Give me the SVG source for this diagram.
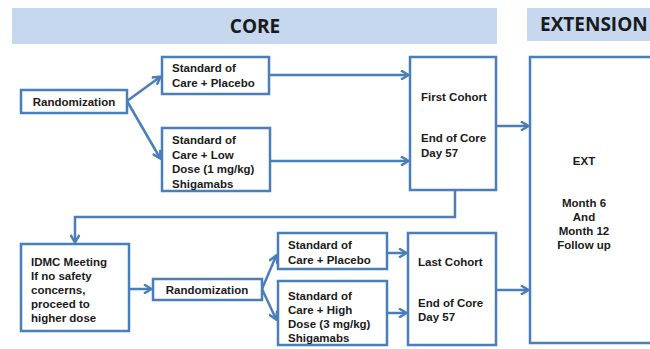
<svg xmlns="http://www.w3.org/2000/svg" width="650" height="349" viewBox="0 0 650 349">
<style>
.box{fill:#fff;stroke:#4a7ebb;stroke-width:2.5}
.ban{fill:#c6d8ef}
.t{font-family:"Liberation Sans",Arial,sans-serif;font-weight:bold;font-size:11.5px;fill:#1a1a1a}
.h{font-family:"Open Sans","Liberation Sans",sans-serif;font-weight:bold;font-size:19px;fill:#1a1a1a}
.c{fill:none;stroke:#4a7ebb;stroke-width:2.5}
</style>
<defs>
<marker id="ah" markerWidth="10" markerHeight="10" refX="8" refY="5" orient="auto" markerUnits="userSpaceOnUse">
<path d="M1,0.5 L8.5,5 L1,9.5" fill="none" stroke="#4a7ebb" stroke-width="2.5"/>
</marker>
</defs>
<g id="banner-core"><rect class="ban" x="12" y="8" width="485" height="36"/><text class="h" x="255" y="33" text-anchor="middle">CORE</text></g>
<g id="banner-ext"><rect class="ban" x="527" y="8" width="123" height="33"/><text class="h" x="540" y="31">EXTENSION</text></g>

<g id="connectors">
<path class="c" d="M127,101 L160,77" marker-end="url(#ah)"/>
<path class="c" d="M127,101 L160,158" marker-end="url(#ah)"/>
<path class="c" d="M269,75 L408,75" marker-end="url(#ah)"/>
<path class="c" d="M270,161 L408,161" marker-end="url(#ah)"/>
<path class="c" d="M496,126 L528,126" marker-end="url(#ah)"/>
<path class="c" d="M455,190 L455,217 L75,217 L75,242" marker-end="url(#ah)"/>
<path class="c" d="M129,289 L151,289" marker-end="url(#ah)"/>
<path class="c" d="M262,289 L276,256" marker-end="url(#ah)"/>
<path class="c" d="M262,289 L276,319" marker-end="url(#ah)"/>
<path class="c" d="M387,253 L406,253" marker-end="url(#ah)"/>
<path class="c" d="M387,313 L406,313" marker-end="url(#ah)"/>
<path class="c" d="M496,290 L528,290" marker-end="url(#ah)"/>
</g>

<g id="rand1"><rect class="box" x="21" y="90" width="106" height="23"/><text class="t" x="74" y="106" text-anchor="middle">Randomization</text></g>
<g id="soc-placebo1"><rect class="box" x="162" y="57" width="107" height="37"/><text class="t" x="172" y="72">Standard of</text><text class="t" x="172" y="87">Care + Placebo</text></g>
<g id="soc-low"><rect class="box" x="162" y="128" width="108" height="63"/><text class="t" x="172" y="144">Standard of</text><text class="t" x="172" y="158.5">Care + Low</text><text class="t" x="172" y="173">Dose (1 mg/kg)</text><text class="t" x="172" y="187.5">Shigamabs</text></g>
<g id="first-cohort"><rect class="box" x="410" y="57" width="86" height="133"/><text class="t" x="421" y="101">First Cohort</text><text class="t" x="421" y="142">End of Core</text><text class="t" x="421" y="156.5">Day 57</text></g>
<g id="ext"><rect class="box" x="530" y="57" width="125" height="286"/><text class="t" x="584" y="165" text-anchor="middle">EXT</text><text class="t" x="584" y="207" text-anchor="middle">Month 6</text><text class="t" x="584" y="221" text-anchor="middle">And</text><text class="t" x="584" y="235" text-anchor="middle">Month 12</text><text class="t" x="584" y="249" text-anchor="middle">Follow up</text></g>
<g id="idmc"><rect class="box" x="21" y="244" width="108" height="87"/><text class="t" x="31" y="266">IDMC Meeting</text><text class="t" x="31" y="280">If no safety</text><text class="t" x="31" y="294">concerns,</text><text class="t" x="31" y="308">proceed to</text><text class="t" x="31" y="322">higher dose</text></g>
<g id="rand2"><rect class="box" x="153" y="279" width="109" height="21"/><text class="t" x="207" y="294" text-anchor="middle">Randomization</text></g>
<g id="soc-placebo2"><rect class="box" x="278" y="233" width="109" height="36"/><text class="t" x="288" y="249">Standard of</text><text class="t" x="288" y="264">Care + Placebo</text></g>
<g id="soc-high"><rect class="box" x="278" y="281" width="109" height="64"/><text class="t" x="288" y="300">Standard of</text><text class="t" x="288" y="314">Care + High</text><text class="t" x="288" y="328">Dose (3 mg/kg)</text><text class="t" x="288" y="342">Shigamabs</text></g>
<g id="last-cohort"><rect class="box" x="408" y="233" width="88" height="112"/><text class="t" x="418" y="266">Last Cohort</text><text class="t" x="418" y="307">End of Core</text><text class="t" x="418" y="321">Day 57</text></g>
</svg>
